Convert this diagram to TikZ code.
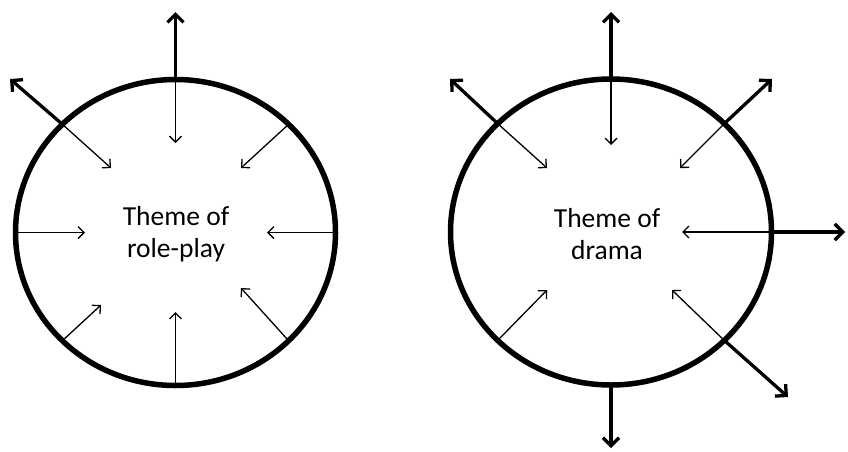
\documentclass[tikz,border=0pt]{standalone}
\usepackage{fontspec}
\setmainfont{Carlito}
\usetikzlibrary{arrows.meta}
\tikzset{
  thinarrow/.style={line width=1.3pt,-{Straight Barb[length=6pt,width=12pt,line width=1.3pt]}},
  thickarrow/.style={line width=3.3pt,-{Straight Barb[length=8pt,width=16pt,line width=3.3pt]}},
  ring/.style={line width=5.5pt},
  theme/.style={align=center,font=\fontsize{27.5}{31.5}\selectfont,inner sep=0pt}
}
\begin{document}
\begin{tikzpicture}[x=1pt,y=-1pt]
\useasboundingbox (0,0) rectangle (848,451);
% ---------- left diagram ----------
\coordinate (lc) at (175.5,232.5);
\coordinate (ltop) at (175.5,79.5);
\coordinate (ltopout) at (175.5,12);
\coordinate (ltopin) at (175.5,143);
\coordinate (ltl) at (62.4,124.3);
\coordinate (ltlout) at (10,79);
\coordinate (ltlin) at (111,168);
\coordinate (lleft) at (15.5,232.5);
\coordinate (lleftin) at (85,232.5);
\coordinate (lright) at (335.5,232.5);
\coordinate (lrightin) at (267,232.5);
\coordinate (ltr) at (288.6,124.3);
\coordinate (ltrin) at (241,168);
\coordinate (lbl) at (62.4,340.7);
\coordinate (lblin) at (101,305);
\coordinate (lb) at (175.5,385.5);
\coordinate (lbin) at (175.5,312);
\coordinate (lbr) at (288.6,340.7);
\coordinate (lbrin) at (241,288);
\draw[thickarrow] (ltop) -- (ltopout);
\draw[thinarrow] (ltop) -- (ltopin);
\draw[thickarrow] (ltl) -- (ltlout);
\draw[thinarrow] (ltl) -- (ltlin);
\draw[thinarrow] (lleft) -- (lleftin);
\draw[thinarrow] (lright) -- (lrightin);
\draw[thinarrow] (ltr) -- (ltrin);
\draw[thinarrow] (lbl) -- (lblin);
\draw[thinarrow] (lb) -- (lbin);
\draw[thinarrow] (lbr) -- (lbrin);
\draw[ring] (lc) ellipse [x radius=160pt, y radius=153pt];
\node[theme] (roleplay) at (176,234) {Theme of\\role-play};
% ---------- right diagram ----------
\coordinate (rc) at (611,232);
\coordinate (rtop) at (611,79);
\coordinate (rtopout) at (611,12);
\coordinate (rtopin) at (611,145);
\coordinate (rtl) at (497.9,123.8);
\coordinate (rtlout) at (450,79);
\coordinate (rtlin) at (547,168);
\coordinate (rtr) at (724.1,123.8);
\coordinate (rtrout) at (772,79);
\coordinate (rtrin) at (680,168);
\coordinate (rright) at (771,232);
\coordinate (rrightin) at (682,232);
\coordinate (rrightout) at (845,232);
\coordinate (rbl) at (497.9,340.2);
\coordinate (rblin) at (547,290);
\coordinate (rbr) at (724.1,340.2);
\coordinate (rbrin) at (672,290);
\coordinate (rbrout) at (788,397);
\coordinate (rb) at (611,385);
\coordinate (rbout) at (611,448);
\draw[thickarrow] (rtop) -- (rtopout);
\draw[thinarrow] (rtop) -- (rtopin);
\draw[thickarrow] (rtl) -- (rtlout);
\draw[thinarrow] (rtl) -- (rtlin);
\draw[thickarrow] (rtr) -- (rtrout);
\draw[thinarrow] (rtr) -- (rtrin);
\draw[thinarrow] (rright) -- (rrightin);
\draw[thickarrow] (rright) -- (rrightout);
\draw[thinarrow] (rbl) -- (rblin);
\draw[thinarrow] (rbr) -- (rbrin);
\draw[thickarrow] (rbr) -- (rbrout);
\draw[thickarrow] (rb) -- (rbout);
\draw[ring] (rc) ellipse [x radius=160.5pt, y radius=153pt];
\node[theme] (drama) at (607,234) {Theme of\\drama};
\end{tikzpicture}
\end{document}
